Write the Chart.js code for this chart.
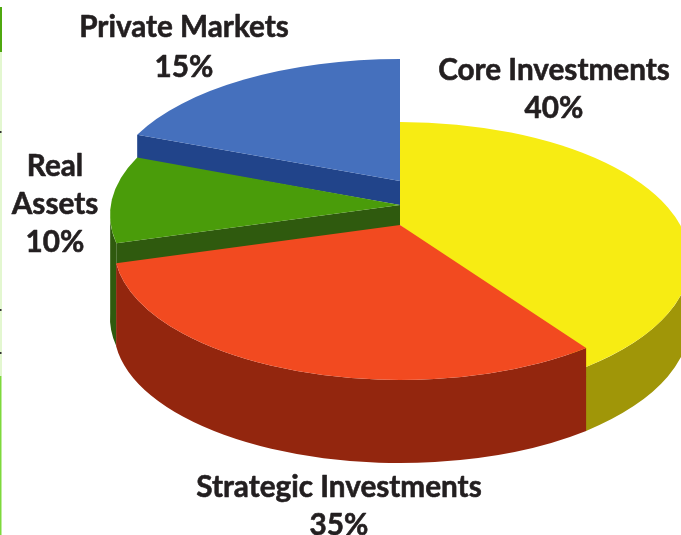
<!DOCTYPE html>
<html>
<head>
<meta charset="utf-8">
<style>html,body{margin:0;padding:0;background:#fff}canvas{display:block}</style>
<script src="https://cdn.jsdelivr.net/npm/chart.js@4/dist/chart.umd.js"></script>
</head>
<body>
<canvas id="c" width="681" height="535"></canvas>
<script>
const categories = ['Core Investments', 'Strategic Investments', 'Real Assets', 'Private Markets'];
const shares = [40, 35, 10, 15];
const topColors = ['#F7EC13', '#F24A20', '#4A9C0A', '#4570BD'];
const sideColors = ['#A09608', '#93260E', '#2F5A0E', '#21448A'];

// Perspective description of each wedge: where its tip and rim ellipse land.
const wedgeShapes = [
  { apex: [400, 225], rim: [400, 260.6, 290, 138.6], skew: [0, -3.9], outer: { rim: [400, 322, 290, 142], from: 85, to: 140.1 } },
  { apex: [400, 225], rim: [400, 247, 286, 133], skew: [-4.6, -7], outer: { rim: [400, 330, 286, 133], from: 139.4, to: 263 } },
  { apex: [400, 205], rim: [400, 215, 290, 136], skew: [-12, -11], inner: 21, outer: { rim: [400, 318, 290, 136], from: 258, to: 272 } },
  { apex: [400, 181], rim: [400, 190, 290, 131], skew: [-11, 0], inner: 24 }
];
const paintOrder = [3, 2, 0, 1];
const labelBoxes = [
  { x: 554, lines: [80, 118] },
  { x: 339, lines: [497, 535] },
  { x: 55, lines: [176, 214, 252] },
  { x: 184, lines: [37, 77] }
];
const edgeStrips = [
  { y: 7, h: 45, w: 2, color: '#4FA80F' },
  { y: 52, h: 324, w: 2, color: '#E3F7D0' },
  { y: 376, h: 159, w: 1.5, color: '#7ED93C' },
  { y: 131, h: 2, w: 1.5, color: '#333333' },
  { y: 309, h: 2, w: 1.5, color: '#333333' },
  { y: 352, h: 2, w: 1.5, color: '#333333' }
];

const rad = d => d * Math.PI / 180;
const rimPoint = (e, t) => [e[0] + e[2] * Math.sin(rad(t)), e[1] - e[3] * Math.cos(rad(t))];
function rimArc(ctx, e, t0, t1) {
  ctx.ellipse(e[0], e[1], e[2], e[3], 0, rad(t0 - 90), rad(t1 - 90), t1 < t0);
}

function paintWedge(ctx, arc, shape, top, side) {
  const a0 = (arc.startAngle + Math.PI / 2) * 180 / Math.PI + shape.skew[0];
  const a1 = (arc.endAngle + Math.PI / 2) * 180 / Math.PI + shape.skew[1];
  ctx.fillStyle = side;
  if (shape.outer) {
    ctx.beginPath();
    rimArc(ctx, shape.rim, shape.outer.from, shape.outer.to);
    rimArc(ctx, shape.outer.rim, shape.outer.to, shape.outer.from);
    ctx.closePath();
    ctx.fill();
  }
  if (shape.inner) {
    const tip = rimPoint(shape.rim, a0);
    ctx.beginPath();
    ctx.moveTo(shape.apex[0], shape.apex[1]);
    ctx.lineTo(tip[0], tip[1]);
    ctx.lineTo(tip[0], tip[1] + shape.inner);
    ctx.lineTo(shape.apex[0], shape.apex[1] + shape.inner);
    ctx.closePath();
    ctx.fill();
  }
  ctx.fillStyle = top;
  ctx.beginPath();
  ctx.moveTo(shape.apex[0], shape.apex[1]);
  rimArc(ctx, shape.rim, a0, a1);
  ctx.closePath();
  ctx.fill();
}

class Pie3D extends Chart.PieController {
  draw() {
    const ctx = this.chart.ctx;
    const arcs = this._cachedMeta.data;
    ctx.save();
    paintOrder.forEach(i => paintWedge(ctx, arcs[i], wedgeShapes[i], topColors[i], sideColors[i]));
    ctx.restore();
  }
}
Pie3D.id = 'pie3d';
Pie3D.defaults = {};
Pie3D.overrides = Chart.PieController.overrides;
Chart.register(Pie3D);

const wedgeLabels = {
  id: 'wedgeLabels',
  afterDatasetsDraw(chart) {
    const ctx = chart.ctx;
    ctx.save();
    edgeStrips.forEach(s => { ctx.fillStyle = s.color; ctx.fillRect(0, s.y, s.w, s.h); });
    ctx.fillStyle = '#231F20';
    ctx.strokeStyle = '#231F20';
    ctx.lineWidth = 0.6;
    ctx.lineJoin = 'round';
    ctx.font = 'bold 29.7px Lato';
    ctx.textAlign = 'center';
    ctx.textBaseline = 'alphabetic';
    categories.forEach((name, i) => {
      const box = labelBoxes[i];
      const words = box.lines.length === 3 ? name.split(' ') : [name];
      words.concat(shares[i] + '%').forEach((line, k) => {
        ctx.fillText(line, box.x, box.lines[k]);
        ctx.strokeText(line, box.x, box.lines[k]);
      });
    });
    ctx.restore();
  }
};

new Chart(document.getElementById('c'), {
  type: 'pie3d',
  data: {
    labels: categories,
    datasets: [{ data: shares, backgroundColor: topColors }]
  },
  options: {
    responsive: false,
    animation: false,
    layout: { padding: 0 },
    plugins: { legend: { display: false }, tooltip: { enabled: false } }
  },
  plugins: [wedgeLabels]
});
</script>
</body>
</html>
